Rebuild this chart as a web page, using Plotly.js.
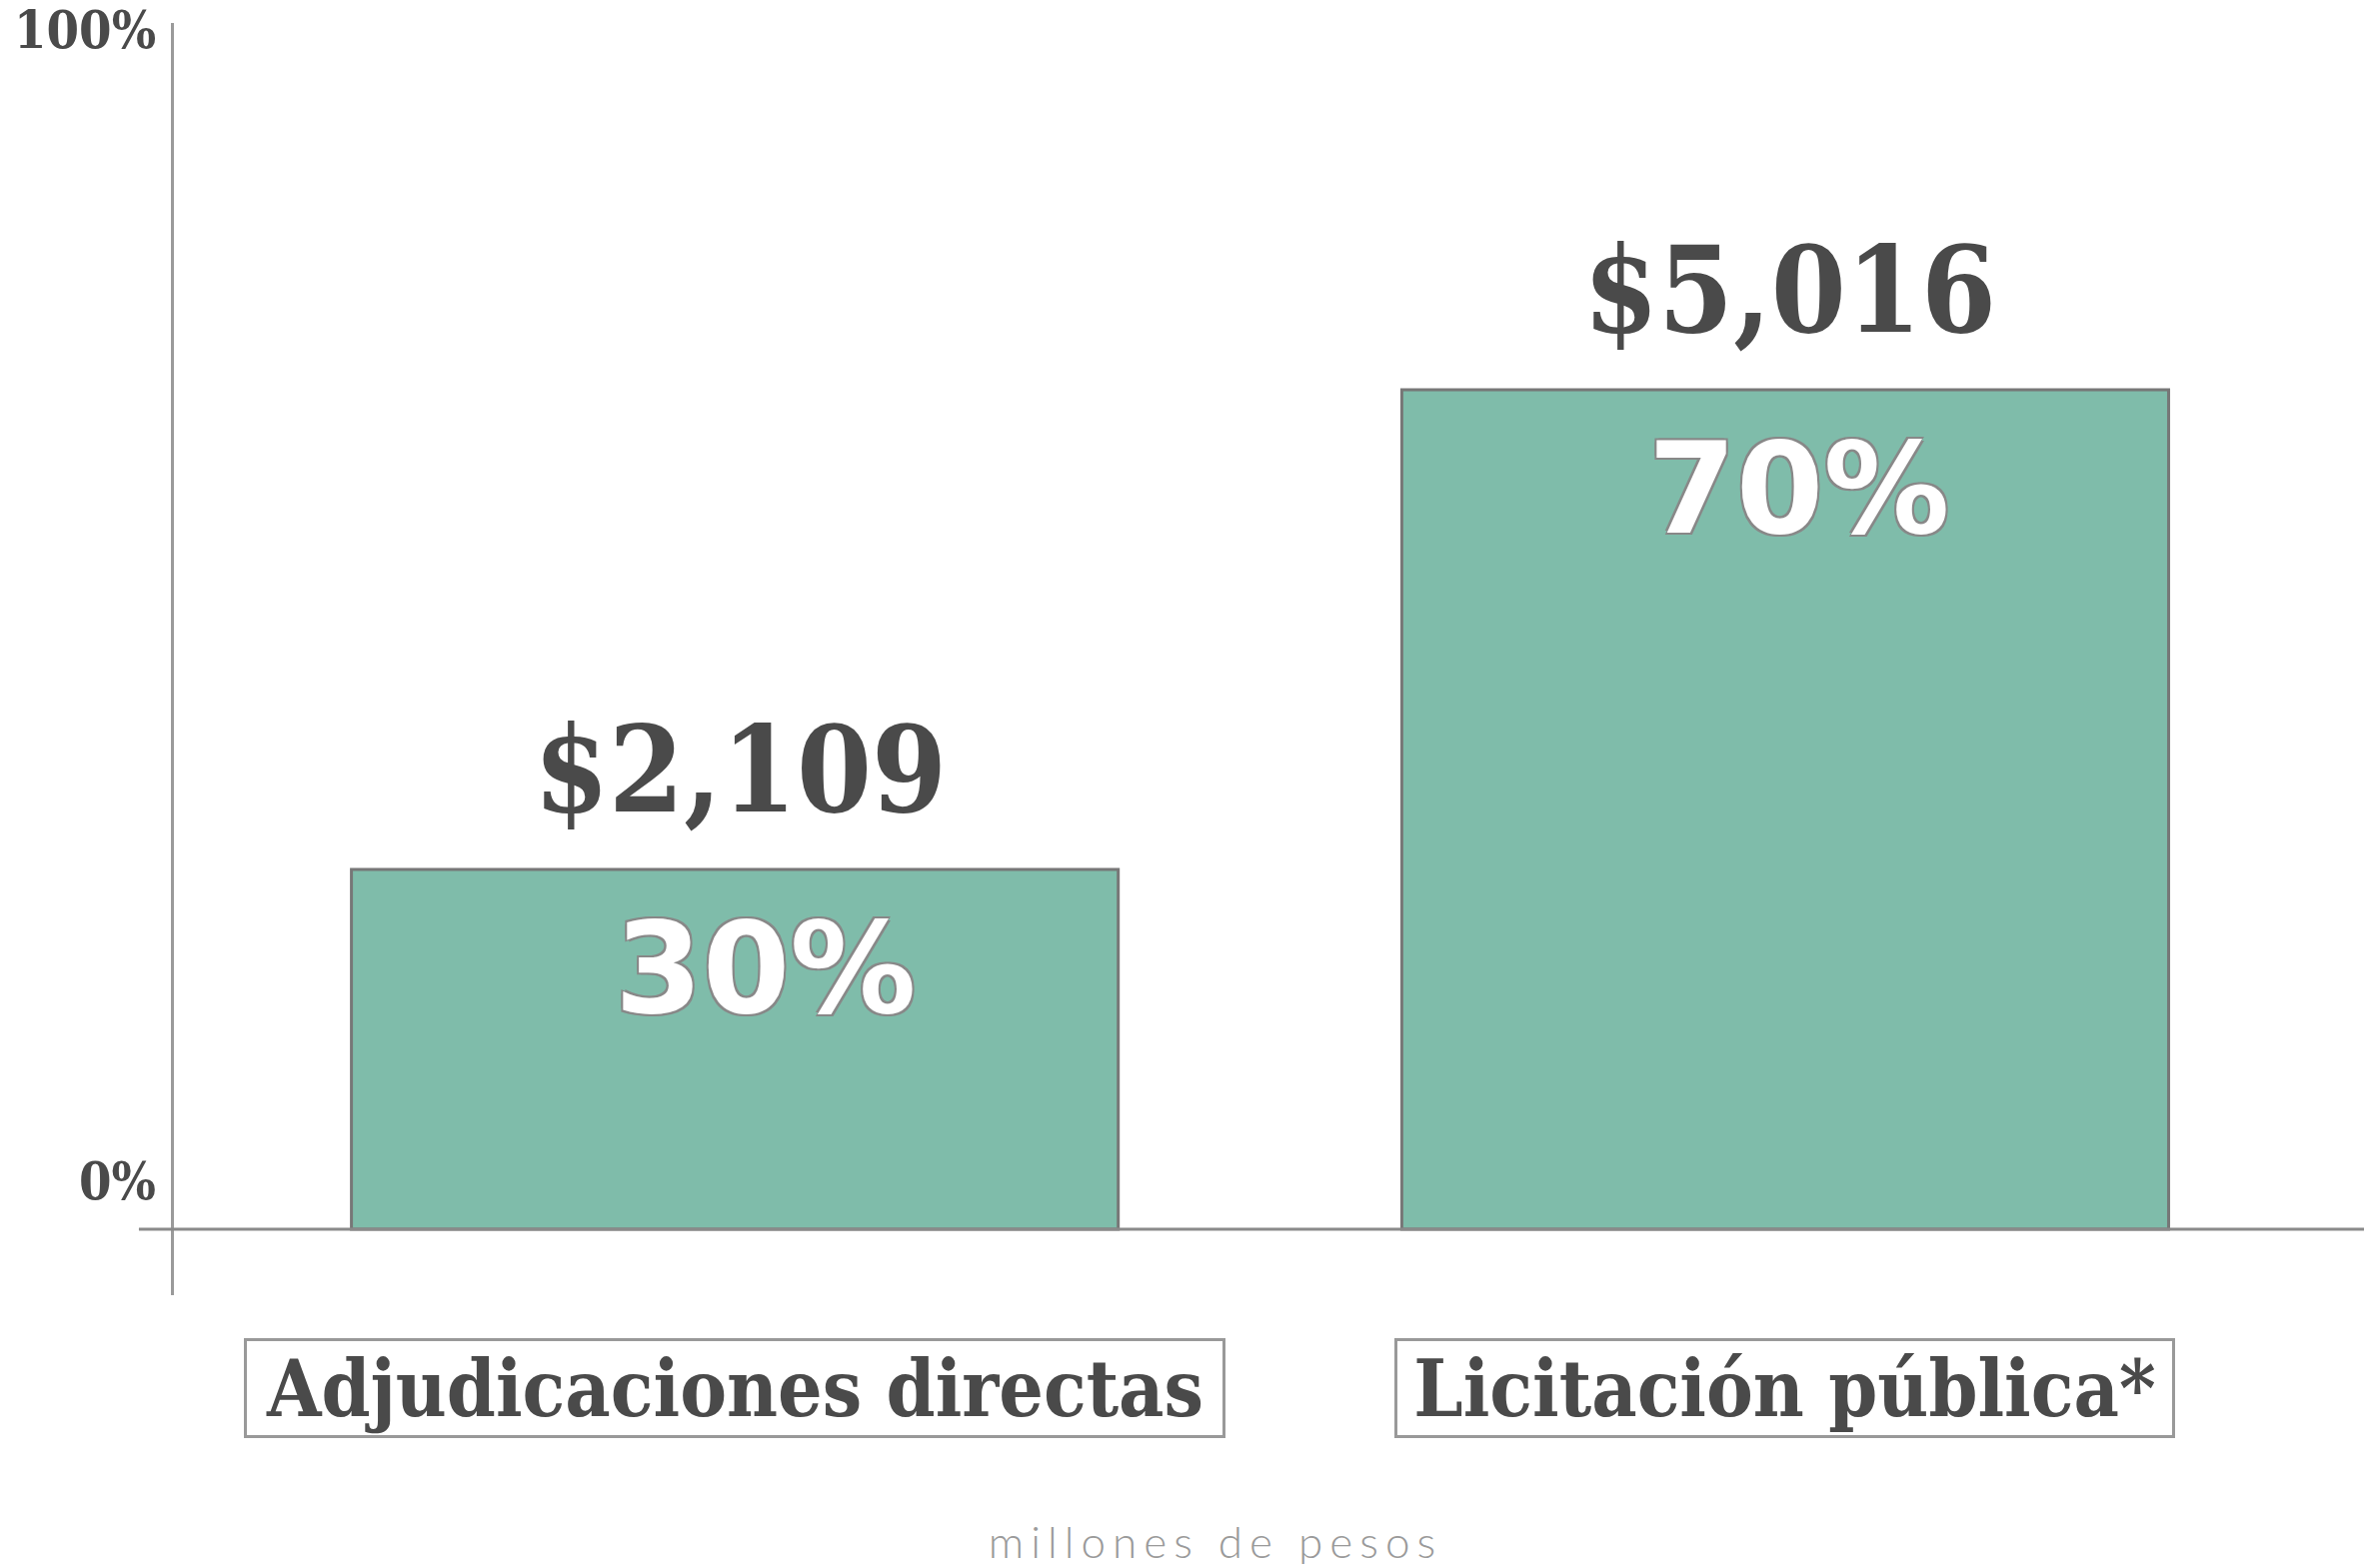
<!DOCTYPE html>
<html>
<head>
<meta charset="utf-8">
<script src="https://cdn.plot.ly/plotly-3.0.1.min.js"></script>
<style>
html,body{margin:0;padding:0;background:#fff;}
#chart{width:2369px;height:1569px;}
g.annotation[data-index="8"] text{letter-spacing:7px;}
</style>
</head>
<body>
<div id="chart"></div>
<script>
// ---- data ----
const categories = ["Adjudicaciones directas", "Licitación pública*"];
const shares = [30, 70];              // percent of total
const amounts = [2109, 5016];         // millones de pesos
const yTickVals = [0, 100];
const yTickLabels = ["0%", "100%"];
const unitNote = "millones de pesos";

// ---- styles ----
const dark = "#4a4a4a";
const slab = "'DejaVu Serif Condensed', 'DejaVu Serif', serif";
const sans = "'DejaVu Sans', 'Open Sans', sans-serif";
const fmtMoney = v => "$" + v.toLocaleString("en-US");

const bars = {
  type: "bar",
  x: categories,
  y: shares,
  width: 0.73,
  marker: {color: "#7fbcaa", line: {color: "#777777", width: 3}},
  hoverinfo: "skip"
};

const annotations = [];
// percent tick labels
annotations.push({xref: "paper", yref: "y", x: 0, y: yTickVals[1], xanchor: "right", yanchor: "middle",
  xshift: -16, yshift: 0, showarrow: false, text: yTickLabels[1],
  font: {family: slab, size: 52, color: dark, weight: 700}});
annotations.push({xref: "paper", yref: "y", x: 0, y: yTickVals[0], xanchor: "right", yanchor: "bottom",
  xshift: -16, yshift: 16, showarrow: false, text: yTickLabels[0],
  font: {family: slab, size: 52, color: dark, weight: 700}});

const boxW = [976, 775];
const pctShift = [31, 14];
categories.forEach((c, i) => {
  // amount above bar
  annotations.push({x: c, y: shares[i], xref: "x", yref: "y", xanchor: "center", yanchor: "bottom",
    yshift: 28, xshift: 5, showarrow: false, text: fmtMoney(amounts[i]),
    font: {family: slab, size: 120, color: dark, weight: 700}});
  // percent inside bar
  annotations.push({x: c, y: shares[i], xref: "x", yref: "y", xanchor: "center", yanchor: "top",
    yshift: -24, xshift: pctShift[i], showarrow: false, text: shares[i] + "%",
    font: {family: sans, size: 126, color: "#ffffff", weight: 700,
      shadow: "-2px -2px 0 #888, 2px -2px 0 #888, -2px 2px 0 #888, 2px 2px 0 #888"}});
  // category label box
  annotations.push({x: c, y: 0, xref: "x", yref: "y", xanchor: "center", yanchor: "top",
    yshift: -109, showarrow: false, text: c, width: boxW[i], height: 94,
    bordercolor: "#999999", borderwidth: 3, borderpad: 0, bgcolor: "#ffffff",
    font: {family: slab, size: 78, color: dark, weight: 700}});
});
annotations.push({xref: "paper", yref: "paper", x: (1216 - 174) / 2191, y: 0, yanchor: "middle",
  yshift: -(1542 - 1296), showarrow: false, text: unitNote, height: 46, width: 560,
  font: {family: "Lato, 'Open Sans', sans-serif", size: 44, color: "#9a9a9a", weight: 300}});

const layout = {
  width: 2369, height: 1569,
  margin: {l: 174, r: 4, t: 23, b: 273},
  paper_bgcolor: "#ffffff", plot_bgcolor: "#ffffff",
  showlegend: false,
  xaxis: {type: "category", range: [-0.534, 1.551], showticklabels: false, showgrid: false,
    zeroline: false, showline: false, ticks: ""},
  yaxis: {range: [-5.5, 100.58], showticklabels: false, showgrid: false, zeroline: false,
    showline: true, linecolor: "#9a9a9a", linewidth: 3, ticks: ""},
  shapes: [{type: "line", xref: "paper", yref: "y", x0: -0.016, x1: 1, y0: 0, y1: 0,
    line: {color: "#8a8a8a", width: 3}, layer: "above"}],
  annotations: annotations
};

Plotly.newPlot("chart", [bars], layout, {staticPlot: true, displayModeBar: false});
</script>
</body>
</html>
